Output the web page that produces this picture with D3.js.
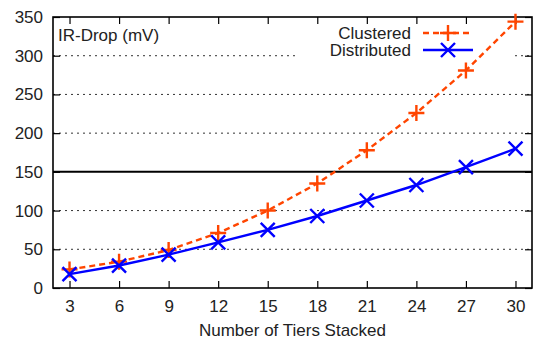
<!DOCTYPE html>
<html>
<head>
<meta charset="utf-8">
<script src="https://cdn.jsdelivr.net/npm/d3@7"></script>
<style>
  body { margin: 0; background: #fff; }
  text { font-family: "Liberation Sans", Arial, sans-serif; fill: #222; }
</style>
</head>
<body>
<svg id="chart" width="533" height="340"></svg>
<script>
const tiers = [3, 6, 9, 12, 15, 18, 21, 24, 27, 30];
const clustered = [24, 34, 49, 71, 100, 135, 178, 226, 281, 344];
const distributed = [18, 29, 43, 59, 75, 93, 113, 133, 156, 180];
const yTicks = [0, 50, 100, 150, 200, 250, 300, 350];
const limit = 150;

const svg = d3.select("#chart");
const pLeft = 53, pRight = 532, pTop = 17, pBottom = 288;

const x = d3.scaleLinear().domain([2, 31]).range([pLeft, pRight]);
const y = d3.scaleLinear().domain([0, 350]).range([pBottom, pTop]);

// grid
svg.append("g")
	.selectAll("line")
	.data(yTicks.filter((d) => d > 0 && d < 350 && d !== limit))
	.join("line")
	.attr("x1", pLeft)
	.attr("x2", pRight)
	.attr("y1", (d) => y(d))
	.attr("y2", (d) => y(d))
	.attr("stroke", "#333")
	.attr("stroke-width", 1)
	.attr("stroke-dasharray", "2,4");

// legend background masks grid
svg.append("rect")
	.attr("x", 296).attr("y", 24).attr("width", 216).attr("height", 36)
	.attr("fill", "#fff");

// threshold line
svg.append("line")
	.attr("x1", pLeft).attr("x2", pRight)
	.attr("y1", y(limit)).attr("y2", y(limit))
	.attr("stroke", "#000").attr("stroke-width", 2);

// axes with inward ticks
const fontSize = "17px";
const axL = svg.append("g")
	.attr("transform", `translate(${pLeft},0)`)
	.call(d3.axisLeft(y).tickValues(yTicks).tickSize(-7).tickPadding(10));
const axR = svg.append("g")
	.attr("transform", `translate(${pRight},0)`)
	.call(d3.axisRight(y).tickValues(yTicks).tickSize(-7).tickFormat(""));
const axB = svg.append("g")
	.attr("transform", `translate(0,${pBottom})`)
	.call(d3.axisBottom(x).tickValues(tiers).tickSize(-7).tickPadding(12));
const axT = svg.append("g")
	.attr("transform", `translate(0,${pTop})`)
	.call(d3.axisTop(x).tickValues(tiers).tickSize(-7).tickFormat(""));

[axL, axR, axB, axT].forEach((a) => {
	a.select(".domain").remove();
	a.selectAll(".tick line").attr("stroke", "#000").attr("stroke-width", 1.2);
	a.selectAll("text").attr("font-size", fontSize).attr("fill", "#222")
		.style("font-family", "'Liberation Sans', Arial, sans-serif");
});

svg.append("rect")
	.attr("x", pLeft).attr("y", pTop)
	.attr("width", pRight - pLeft).attr("height", pBottom - pTop)
	.attr("fill", "none").attr("stroke", "#000").attr("stroke-width", 1.6);

// series
const series = [
	{ name: "Clustered", values: clustered, color: "#ff4500", dash: "6,4", marker: "plus" },
	{ name: "Distributed", values: distributed, color: "#0000ff", dash: null, marker: "cross" },
];

function marker(g, kind, cx, cy, color) {
	const p = kind === "plus"
		? `M${cx - 8},${cy}L${cx + 8},${cy}M${cx},${cy - 8}L${cx},${cy + 8}`
		: `M${cx - 7},${cy - 7}L${cx + 7},${cy + 7}M${cx - 7},${cy + 7}L${cx + 7},${cy - 7}`;
	g.append("path").attr("d", p).attr("stroke", color).attr("stroke-width", 2.4).attr("fill", "none");
}

const line = d3.line().x((d) => x(d[0])).y((d) => y(d[1]));

series.forEach((s) => {
	const pts = tiers.map((t, i) => [t, s.values[i]]);
	svg.append("path")
		.datum(pts)
		.attr("fill", "none")
		.attr("stroke", s.color)
		.attr("stroke-width", 2.4)
		.attr("stroke-dasharray", s.dash)
		.attr("d", line);
	const g = svg.append("g");
	pts.forEach((p) => marker(g, s.marker, x(p[0]), y(p[1]), s.color));
});

// legend
series.forEach((s, i) => {
	const ly = 33 + i * 17;
	svg.append("text")
		.attr("x", 411).attr("y", ly).attr("dy", "0.35em")
		.attr("text-anchor", "end").attr("font-size", "17px")
		.text(s.name);
	svg.append("line")
		.attr("x1", 423).attr("x2", 473).attr("y1", ly).attr("y2", ly)
		.attr("stroke", s.color).attr("stroke-width", 2.4)
		.attr("stroke-dasharray", s.dash);
	marker(svg, s.marker, 448, ly, s.color);
});

// labels
svg.append("text")
	.attr("x", 58).attr("y", 41)
	.attr("font-size", "17px")
	.text("IR-Drop (mV)");
svg.append("text")
	.attr("x", (pLeft + pRight) / 2).attr("y", 336)
	.attr("text-anchor", "middle").attr("font-size", "17px")
	.text("Number of Tiers Stacked");
</script>
</body>
</html>
